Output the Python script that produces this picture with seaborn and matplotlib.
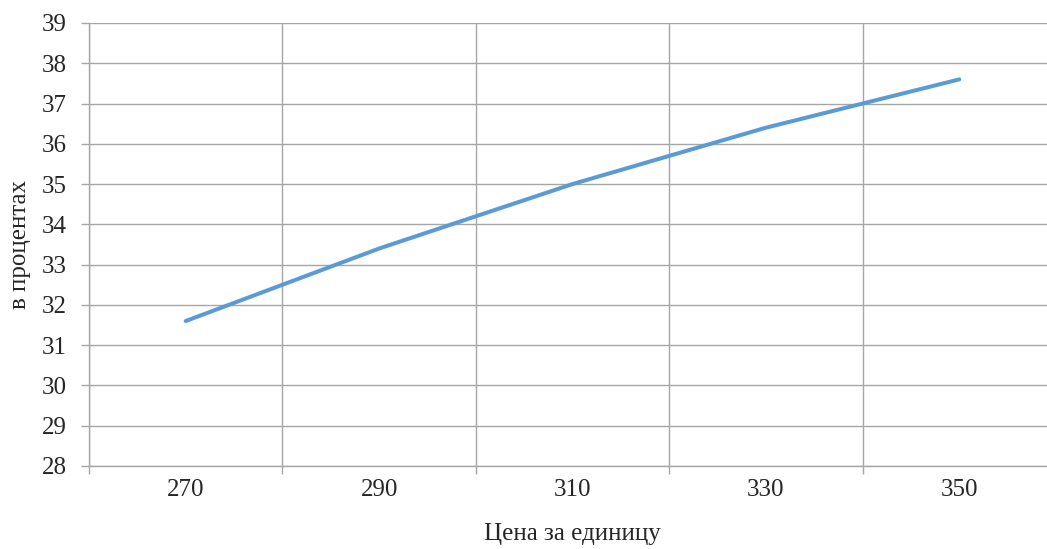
import matplotlib
matplotlib.use("Agg")
import matplotlib.pyplot as plt
from matplotlib.ticker import MultipleLocator, FixedLocator
import seaborn as sns
import pandas as pd

# data
prices = [270, 290, 310, 330, 350]
percents = [31.6, 33.4, 35.0, 36.4, 37.6]

x_label = "Цена за единицу"
y_label = "в процентах"

sns.set_style("white")
plt.rcParams['font.family'] = ['Liberation Serif', 'DejaVu Serif']

df = pd.DataFrame({"price": prices, "pct": percents})

fig = plt.figure(figsize=(10.47, 5.49), dpi=100)
ax = fig.add_axes([89/1047, 1 - 466/549, (1056 - 89)/1047, (466 - 23)/549])

grid_col = "#a6a6a6"
sns.lineplot(data=df, x="price", y="pct", ax=ax, color="#5b9bd5", linewidth=2.9,
             solid_capstyle="round", zorder=3)

ax.set_xlim(260, 360)
ax.set_ylim(28, 39)
ax.yaxis.set_major_locator(MultipleLocator(1))
ax.xaxis.set_major_locator(FixedLocator(prices))
ax.xaxis.set_minor_locator(FixedLocator([260, 280, 300, 320, 340, 360]))

ax.grid(True, axis="y", color=grid_col, linewidth=1.0)
ax.grid(True, axis="x", which="minor", color=grid_col, linewidth=1.0)
ax.grid(False, axis="x", which="major")

for side in ["top", "right"]:
    ax.spines[side].set_visible(False)
for side in ["left", "bottom"]:
    ax.spines[side].set_color(grid_col)
    ax.spines[side].set_linewidth(1.0)

ax.tick_params(axis="y", which="major", length=6, width=1.0, color=grid_col,
               labelsize=18, pad=10, direction="out", left=True)
ax.tick_params(axis="x", which="major", length=0, labelsize=18, pad=9)
ax.tick_params(axis="x", which="minor", length=6, width=1.0, color=grid_col,
               direction="out", bottom=True)

ax.set_xlabel(x_label, fontsize=18, labelpad=16)
ax.set_ylabel(y_label, fontsize=18, labelpad=8)

fig.savefig("out.png", dpi=100)
